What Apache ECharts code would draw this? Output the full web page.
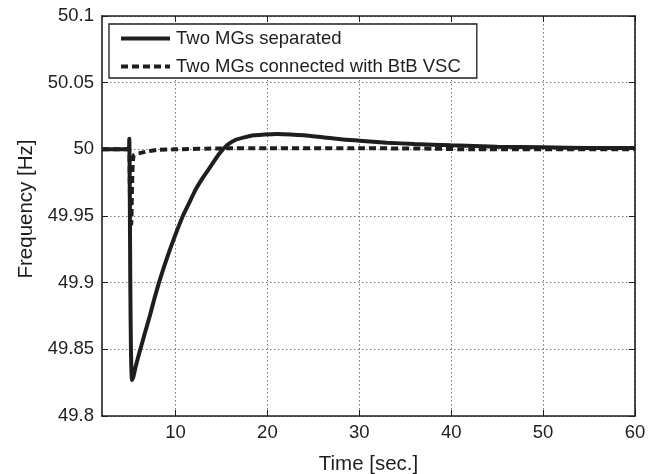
<!DOCTYPE html>
<html>
<head>
<meta charset="utf-8">
<script src="https://cdn.jsdelivr.net/npm/echarts@6/dist/echarts.min.js"></script>
<style>html,body{margin:0;padding:0;background:#fff}#c{width:656px;height:474px}</style>
</head>
<body>
<div id="c"></div>
<script>
const seriesNames = ['Two MGs separated', 'Two MGs connected with BtB VSC'];
const xTicks = [10, 20, 30, 40, 50, 60];
const yTicks = [49.8, 49.85, 49.9, 49.95, 50, 50.05, 50.1];

const tSep = [2, 4.9, 4.97, 5.02, 5.08, 5.15, 5.26, 5.4, 5.7, 6.17, 6.7, 7.2, 7.7, 8.2, 8.8, 9.4, 10.1, 10.8, 11.5, 12.2, 13, 13.8, 14.8, 15.6, 16.5, 17.5, 18.5, 19.5, 21, 22.5, 24, 26, 28, 30, 33, 36, 40, 45, 50, 55, 60];
const fSep = [50, 50, 50.008, 49.97, 49.9, 49.85, 49.827, 49.829, 49.838, 49.85, 49.863, 49.875, 49.888, 49.9, 49.913, 49.925, 49.938, 49.95, 49.96, 49.97, 49.979, 49.987, 49.997, 50.003, 50.007, 50.009, 50.0105, 50.011, 50.0115, 50.0112, 50.0105, 50.009, 50.0075, 50.0065, 50.005, 50.004, 50.003, 50.002, 50.0015, 50.001, 50.001];

const tCon = [2, 4.95, 5.02, 5.1, 5.18, 5.26, 5.35, 5.5, 6, 7, 8, 10, 15, 20, 30, 38, 42, 60];
const fCon = [50, 50, 49.975, 49.945, 49.944, 49.97, 49.99, 49.996, 49.997, 49.9985, 49.9995, 50.0, 50.0007, 50.0008, 50.0008, 50.0005, 50.0, 50.0];

const pair = (t, f) => t.map((v, i) => [v, f[i]]);
const font = 'Liberation Sans, Arial, sans-serif';
const ink = '#1e1e1e';

const chart = echarts.init(document.getElementById('c'));
chart.setOption({
  animation: false,
  backgroundColor: '#fff',
  grid: {left: 102, right: 21, top: 16, bottom: 58, containLabel: false, outerBoundsMode: 'none'},
  legend: {
    orient: 'vertical',
    left: 109, top: 24,
    padding: [5, 16, 2, 10],
    itemGap: 9,
    itemWidth: 49, itemHeight: 14,
    backgroundColor: '#fff',
    borderColor: ink, borderWidth: 1.3,
    borderRadius: 0,
    itemStyle: {opacity: 0},
    lineStyle: {width: 4},
    textStyle: {fontFamily: font, fontSize: 18.5, color: ink, padding: [0, 0, 0, 1]},
    data: seriesNames
  },
  xAxis: [{
    type: 'value', min: 2, max: 60,
    interval: 10,
    name: 'Time [sec.]', nameLocation: 'middle', nameGap: 38,
    nameTextStyle: {fontFamily: font, fontSize: 20.5, color: ink},
    axisLine: {lineStyle: {color: ink, width: 1.6}},
    axisTick: {inside: true, length: 6, lineStyle: {color: ink}, customValues: xTicks},
    axisLabel: {fontFamily: font, fontSize: 18.5, color: ink, margin: 7, customValues: xTicks},
    splitLine: {show: true, lineStyle: {color: '#777', type: [1.5, 2.5], width: 1}}
  }, {
    type: 'value', min: 2, max: 60, position: 'top',
    axisLine: {lineStyle: {color: ink, width: 1.6}},
    axisTick: {inside: true, length: 6, lineStyle: {color: ink}, customValues: xTicks},
    axisLabel: {show: false},
    splitLine: {show: false}
  }],
  yAxis: [{
    type: 'value', min: 49.8, max: 50.1, interval: 0.05,
    name: 'Frequency [Hz]', nameLocation: 'middle', nameGap: 64,
    nameTextStyle: {fontFamily: font, fontSize: 20.5, color: ink, padding: [0, 0, 0, 14]},
    axisLine: {show: true, lineStyle: {color: ink, width: 1.6}},
    axisTick: {show: true, inside: true, length: 6, lineStyle: {color: ink}},
    axisLabel: {fontFamily: font, fontSize: 18.5, color: ink, margin: 8,
      formatter: v => String(parseFloat(v.toFixed(2)))},
    splitLine: {show: true, lineStyle: {color: '#777', type: [1.5, 2.5], width: 1}}
  }, {
    type: 'value', min: 49.8, max: 50.1, interval: 0.05, position: 'right',
    axisLine: {show: true, lineStyle: {color: ink, width: 1.6}},
    axisTick: {show: true, inside: true, length: 6, lineStyle: {color: ink}},
    axisLabel: {show: false},
    splitLine: {show: false}
  }],
  series: [{
    name: seriesNames[0], type: 'line', showSymbol: false, symbol: 'none',
    smooth: 0.2,
    data: pair(tSep, fSep),
    lineStyle: {color: ink, width: 4},
    itemStyle: {color: ink},
    z: 3
  }, {
    name: seriesNames[1], type: 'line', showSymbol: false, symbol: 'none',
    smooth: 0.2,
    data: pair(tCon, fCon),
    lineStyle: {color: ink, width: 4, type: [7, 4]},
    itemStyle: {color: ink},
    z: 4
  }]
});
</script>
</body>
</html>
